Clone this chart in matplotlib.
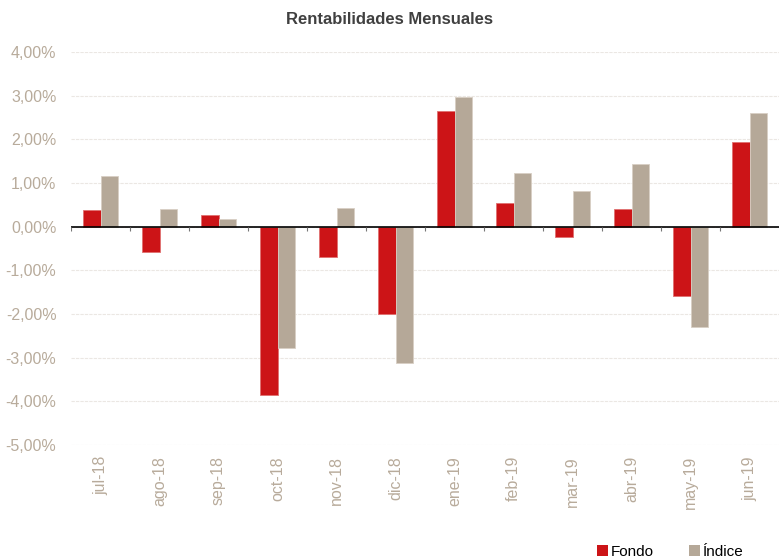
import matplotlib
matplotlib.use("Agg")
import matplotlib.pyplot as plt
import numpy as np
from matplotlib.patches import Patch

plt.rcParams['font.family'] = ['Liberation Sans', 'DejaVu Sans']

categories = ["jul-18", "ago-18", "sep-18", "oct-18", "nov-18", "dic-18",
              "ene-19", "feb-19", "mar-19", "abr-19", "may-19", "jun-19"]
fondo = [0.39, -0.58, 0.27, -3.85, -0.69, -2.01, 2.64, 0.55, -0.24, 0.41, -1.58, 1.95]
indice = [1.17, 0.40, 0.17, -2.79, 0.43, -3.13, 2.98, 1.23, 0.82, 1.43, -2.29, 2.60]
yticks = [4, 3, 2, 1, 0, -1, -2, -3, -4, -5]

red = "#cc1417"
tan = "#b5a898"
label_col = "#b8ab9b"

fig = plt.figure(figsize=(7.79, 5.6), dpi=100)
ax = fig.add_axes([71/779, 1-445/560, 1-71/779, (445-52)/560])

x = np.arange(len(categories))
w = 0.29
ax.bar(x - w/2, fondo, w, color=red, edgecolor="#e07070", linewidth=0.6, zorder=3)
ax.bar(x + w/2, indice, w, color=tan, edgecolor="#d8cfc4", linewidth=0.6, zorder=3)

ax.set_xlim(-0.5, len(categories) - 0.5)
ax.set_ylim(-5, 4)
ax.set_yticks(yticks)
ax.set_yticklabels([f"{v:.2f}%".replace(".", ",") for v in yticks],
                   color=label_col, fontsize=11.5)
ax.tick_params(axis='y', length=0, pad=10.5)
ax.set_xticks(x)
ax.set_xticklabels(categories, rotation=90, color=label_col, fontsize=11.5)
ax.tick_params(axis='x', length=0, pad=8)

for s in ax.spines.values():
    s.set_visible(False)
ax.grid(axis='y', color="#ebe7e3", linestyle=(0, (3, 1)), linewidth=0.8, zorder=0)
ax.axhline(0, color="black", linewidth=1.2, zorder=4)
bounds = np.arange(len(categories)) - 0.5
ax.vlines(bounds, -0.1, 0, color="#777777", linewidth=0.8, zorder=4)

fig.text(0.5, 1-20/560, "Rentabilidades Mensuales", ha="center", va="center",
         fontsize=12, fontweight="bold", color="#404040")

handles = [Patch(facecolor=red, edgecolor="none"), Patch(facecolor=tan, edgecolor="none")]
fig.legend(handles, ["Fondo", "Índice"], loc="lower left",
           bbox_to_anchor=(597/779, 0.002), ncol=2, frameon=False,
           fontsize=11, handlelength=0.7, handleheight=0.7, handletextpad=0.2,
           columnspacing=2.3, borderpad=0, borderaxespad=0)

fig.savefig("out.png", dpi=100)
